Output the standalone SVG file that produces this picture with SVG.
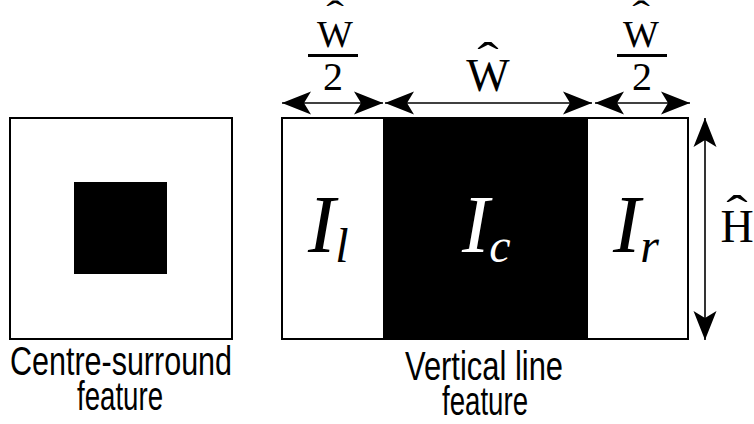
<svg xmlns="http://www.w3.org/2000/svg" width="754" height="424" viewBox="0 0 754 424">
<style>
.box{fill:#fff;stroke:#000;stroke-width:2}
.lbl{font-family:"Liberation Sans",Arial,sans-serif;font-size:40px;fill:#000;text-anchor:middle}
.math{font-family:"Liberation Serif","Times New Roman",serif;fill:#000}
.it{font-style:italic;font-size:82px}
.sub{font-size:48px}
.hat{font-family:"Liberation Serif","Times New Roman",serif;fill:#000;text-anchor:middle}
.arr{stroke:#000;stroke-width:1.6;fill:none;marker-start:url(#ah);marker-end:url(#ah)}
</style>
<defs>
<marker id="ah" viewBox="-32 -13 34 26" markerWidth="34" markerHeight="26" refX="0" refY="0" orient="auto-start-reverse" markerUnits="userSpaceOnUse">
<path d="M0,0 L-29,-11.5 L-22,0 L-29,11.5 Z" fill="#000"/>
</marker>
</defs>
<g id="centre-surround">
<rect class="box" x="10" y="118" width="222" height="221"/>
<rect x="74" y="182" width="93" height="92" fill="#000"/>
<text class="lbl" x="121" y="375" textLength="222" lengthAdjust="spacingAndGlyphs">Centre-surround</text>
<text class="lbl" x="120" y="410" textLength="86" lengthAdjust="spacingAndGlyphs">feature</text>
</g>
<g id="vertical-line">
<rect class="box" x="282" y="118" width="406" height="221"/>
<rect x="383" y="118" width="205" height="221" fill="#000"/>
<text class="math it" x="308" y="252">I<tspan class="sub" dy="10">l</tspan></text>
<text class="math it" x="462" y="252" style="fill:#fff">I<tspan class="sub" dy="10">c</tspan></text>
<text class="math it" x="613" y="252">I<tspan class="sub" dy="10">r</tspan></text>
<text class="lbl" x="484" y="380" textLength="158" lengthAdjust="spacingAndGlyphs">Vertical line</text>
<text class="lbl" x="485" y="415" textLength="86" lengthAdjust="spacingAndGlyphs">feature</text>
</g>
<g id="label-w-left">
<text class="math" x="335" y="47" font-size="38" text-anchor="middle">W</text>
<text class="hat" transform="translate(335,27) scale(1.4,1)" font-size="38">ˆ</text>
<rect x="308" y="54" width="50" height="3" fill="#000"/>
<text class="math" x="333" y="90" font-size="40" text-anchor="middle">2</text>
</g>
<g id="label-w-mid">
<text class="math" x="488" y="91" font-size="46" text-anchor="middle">W</text>
<text class="hat" transform="translate(488,75) scale(1.4,1)" font-size="46">ˆ</text>
</g>
<g id="label-w-right">
<text class="math" x="641" y="47" font-size="38" text-anchor="middle">W</text>
<text class="hat" transform="translate(641,27) scale(1.4,1)" font-size="38">ˆ</text>
<rect x="617" y="54" width="50" height="3" fill="#000"/>
<text class="math" x="642" y="90" font-size="40" text-anchor="middle">2</text>
</g>
<g id="label-h">
<text class="math" x="737" y="242" font-size="46" text-anchor="middle">H</text>
<text class="hat" transform="translate(737,228) scale(1.4,1)" font-size="46">ˆ</text>
</g>
<g id="connectors">
<line class="arr" x1="282" y1="103" x2="383" y2="103"/>
<line class="arr" x1="385" y1="103" x2="592" y2="103"/>
<line class="arr" x1="595" y1="103" x2="690" y2="103"/>
<line class="arr" x1="705" y1="118" x2="705" y2="340"/>
</g>
</svg>
